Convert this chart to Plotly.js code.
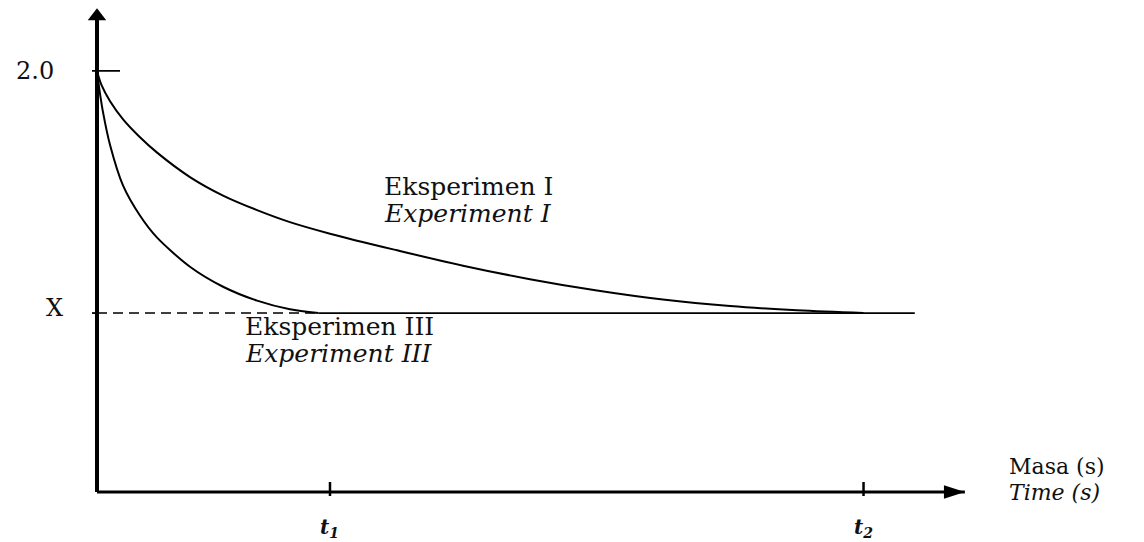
<!DOCTYPE html>
<html>
<head>
<meta charset="utf-8">
<script src="https://cdn.plot.ly/plotly-3.0.1.min.js"></script>
<style>html,body{margin:0;padding:0;background:#fff;}#chart{width:1144px;height:542px;}</style>
</head>
<body>
<div id="chart"></div>
<script>
// ---- data ----
const levelX = 0.85;          // value of the "X" level
const startValue = 2.0;       // starting value
const t1 = 10;                // time t1 (arbitrary units)
const t2 = 32.9;              // time t2
const tEnd = 35.1;            // end of drawn level line

const expI_t = [0, 0.2, 0.56, 1.12, 1.8, 2.58, 3.99, 5.41, 6.87, 8.28, 10.0, 12.88, 15.71, 18.58, 21.46, 24.29, 27.17, 30.04, 32.9];
const expI_y = [2.0, 1.931, 1.856, 1.770, 1.690, 1.612, 1.496, 1.408, 1.339, 1.282, 1.227, 1.148, 1.075, 1.011, 0.957, 0.914, 0.883, 0.863, 0.85];

const expIII_t = [0, 0.1, 0.26, 0.56, 1.12, 1.85, 2.58, 3.99, 5.41, 6.87, 8.28, 9.5];
const expIII_y = [2.0, 1.914, 1.803, 1.648, 1.455, 1.312, 1.208, 1.070, 0.975, 0.909, 0.868, 0.85];

const yTickVals = [startValue, levelX];
const yTickText = ['2.0', 'X'];
const xTickVals = [t1, t2];
const xTickText = ['<b><i>t<sub>1</sub></i></b>', '<b><i>t<sub>2</sub></i></b>'];

// ---- layout helpers ----
const xRange = [-0.2146, 37.47], yRange = [-0.019, 2.318];
const xAxisEnd = 37.25, yArrowCenter = 2.260;
const serif = 'DejaVu Serif, Liberation Serif, serif';
const ink = '#111';

const traces = [
  // axes
  {x: [0, xAxisEnd], y: [0, 0], mode: 'lines', line: {color: '#000', width: 3}, hoverinfo: 'skip'},
  {x: [0, 0], y: [0, yArrowCenter], mode: 'lines', line: {color: '#000', width: 4}, hoverinfo: 'skip'},
  {x: [xAxisEnd], y: [0], mode: 'markers', cliponaxis: false, hoverinfo: 'skip',
   marker: {symbol: 'arrow', angle: 90, size: 22, color: '#000', line: {width: 0}}},
  {x: [0], y: [yArrowCenter], mode: 'markers', cliponaxis: false, hoverinfo: 'skip',
   marker: {symbol: 'triangle-up', size: 16, color: '#000', line: {width: 0}}},
  // X level: dashed part then solid part
  {x: [0, expIII_t[expIII_t.length-1]], y: [levelX, levelX], mode: 'lines',
   line: {color: '#000', width: 1.5, dash: '10px,6px'}, hoverinfo: 'skip'},
  {x: [expIII_t[expIII_t.length-1], tEnd], y: [levelX, levelX], mode: 'lines',
   line: {color: '#000', width: 1.8}, hoverinfo: 'skip'},
  // experiments
  {x: expI_t, y: expI_y, mode: 'lines', line: {color: '#000', width: 2, shape: 'spline', smoothing: 1}, name: 'Experiment I'},
  {x: expIII_t, y: expIII_y, mode: 'lines', line: {color: '#000', width: 2, shape: 'spline', smoothing: 0.8}, name: 'Experiment III'}
];

const shapes = [];
yTickVals.forEach((v, i) => {
  shapes.push({type: 'line', xref: 'x', yref: 'y', xsizemode: 'pixel', xanchor: 0,
    x0: i === 0 ? -27 : -25, x1: i === 0 ? 23 : 0, y0: v, y1: v,
    line: {color: '#000', width: 1.8}});
});
xTickVals.forEach(v => {
  shapes.push({type: 'line', xref: 'x', yref: 'y', ysizemode: 'pixel', yanchor: 0,
    x0: v, x1: v, y0: -20, y1: 10, line: {color: '#000', width: 2.5}});
});

const lbl = (x, y, text, size, xref) => ({x: x, y: y, xref: xref || 'x', yref: 'y', xanchor: 'left', yanchor: 'middle',
  showarrow: false, text: text, font: {family: serif, size: size, color: ink}});

const annotations = [
  lbl(12.23, 1.453, 'Eksperimen I', 25),
  lbl(12.23, 1.325, '<i>Experiment I</i>', 25),
  lbl(6.27, 0.784, 'Eksperimen III', 25),
  lbl(6.27, 0.656, '<i>Experiment III</i>', 25),
  lbl(1.042, 0.121, 'Masa (s)', 22, 'paper'),
  lbl(1.042, 0.0, '<i>Time (s)</i>', 22, 'paper')
];
yTickVals.forEach((v, i) => {
  annotations.push({x: 0, y: v, xref: 'x', yref: 'y', xanchor: 'right', yanchor: 'middle',
    xshift: i === 0 ? -41 : -32, yshift: i === 0 ? 0 : 5, showarrow: false, text: yTickText[i],
    font: {family: serif, size: 24, color: ink}});
});
xTickVals.forEach((v, i) => {
  annotations.push({x: v, y: 0, xref: 'x', yref: 'y', xanchor: 'center', yanchor: 'middle',
    yshift: -36, showarrow: false, text: xTickText[i],
    font: {family: serif, size: 20, color: ink}});
});

const layout = {
  width: 1144, height: 542,
  margin: {l: 92, r: 174, t: 4, b: 46, pad: 0},
  paper_bgcolor: '#fff', plot_bgcolor: '#fff',
  showlegend: false,
  xaxis: {range: xRange, showgrid: false, zeroline: false, showline: false, showticklabels: false, ticks: '', fixedrange: true},
  yaxis: {range: yRange, showgrid: false, zeroline: false, showline: false, showticklabels: false, ticks: '', fixedrange: true},
  shapes: shapes,
  annotations: annotations
};

Plotly.newPlot('chart', traces, layout, {displayModeBar: false, staticPlot: true});
</script>
</body>
</html>
